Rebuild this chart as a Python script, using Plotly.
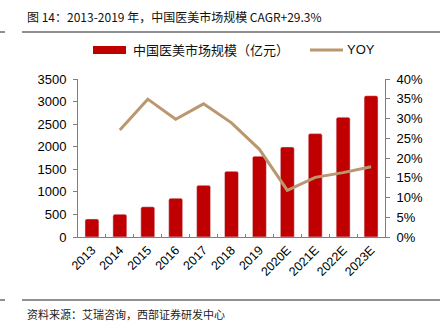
import plotly.graph_objects as go

years = ["2013", "2014", "2015", "2016", "2017", "2018", "2019",
         "2020E", "2021E", "2022E", "2023E"]
market_size = [400, 505, 670, 860, 1145, 1455, 1790, 1995, 2290, 2655, 3130]
yoy_years = years[1:]
yoy_pct = [27.1, 34.9, 29.8, 33.7, 28.9, 22.2, 11.8, 15.1, 16.3, 17.8]

left_ticks = [0, 500, 1000, 1500, 2000, 2500, 3000, 3500]
right_ticks = [0, 5, 10, 15, 20, 25, 30, 35, 40]

BAR = "#C00000"
LINE = "#BA976F"
AXIS = "#808080"
CJK = "Noto Sans CJK SC"
LAT = "Liberation Sans, Arial"

# Canvas and plot-area geometry (pixels)
W, H = 445, 334
pl, pr, pt, pb = 78, 60, 79, 97
pw, ph = W - pl - pr, H - pt - pb


def px(x):
    return (x - pl) / pw


def py(y):
    return (H - pb - y) / ph


fig = go.Figure()
fig.add_trace(go.Bar(
    x=years, y=market_size, name="中国医美市场规模（亿元）",
    marker=dict(color=BAR, cornerradius=2), width=0.5, showlegend=False,
))
fig.add_trace(go.Scatter(
    x=yoy_years, y=yoy_pct, name="YOY", yaxis="y2", mode="lines",
    line=dict(color=LINE, width=3), showlegend=False,
))

fig.update_layout(
    width=W, height=H,
    margin=dict(l=pl, r=pr, t=pt, b=pb),
    paper_bgcolor="white", plot_bgcolor="white",
    font=dict(family=LAT, size=12, color="#000000"),
    xaxis=dict(
        type="category", tickangle=-45, showline=True, linecolor=AXIS,
        linewidth=1, ticks="inside", tickson="boundaries", ticklen=3,
        tickcolor=AXIS, tickfont=dict(family=LAT, size=12.5),
        showgrid=False, range=[-0.5, 10.5],
    ),
    yaxis=dict(
        range=[0, 3500], tickvals=left_ticks, showline=True, linecolor=AXIS,
        ticks="outside", ticklen=4, tickcolor=AXIS, showgrid=False,
        zeroline=False, tickfont=dict(family=LAT, size=13), ticklabelstandoff=4,
    ),
    yaxis2=dict(
        range=[0, 40], tickvals=right_ticks,
        ticktext=[f"{v}%" for v in right_ticks],
        overlaying="y", side="right", showline=True, linecolor=AXIS,
        ticks="outside", ticklen=4, tickcolor=AXIS, showgrid=False,
        zeroline=False, tickfont=dict(family=LAT, size=13), ticklabelstandoff=4,
    ),
)

# Title, source note and legend labels
fig.add_annotation(
    x=px(25), y=py(17), xref="paper", yref="paper", xanchor="left",
    yanchor="middle", text="图 14：2013-2019 年，中国医美市场规模 CAGR+29.3%",
    showarrow=False, font=dict(family=CJK, size=12, color="#111"),
)
fig.add_annotation(
    x=px(25), y=py(314), xref="paper", yref="paper", xanchor="left",
    yanchor="middle", text="资料来源：艾瑞咨询，西部证券研发中心",
    showarrow=False, font=dict(family=CJK, size=11, color="#222"),
)
fig.add_annotation(
    x=px(131), y=py(50), xref="paper", yref="paper", xanchor="left",
    yanchor="middle", text="中国医美市场规模（亿元）",
    showarrow=False, font=dict(family=CJK, size=13, color="#111"),
)
fig.add_annotation(
    x=px(345), y=py(50), xref="paper", yref="paper", xanchor="left",
    yanchor="middle", text="YOY",
    showarrow=False, font=dict(family=LAT, size=13, color="#111"),
)

# Header/footer rules and legend swatches
fig.update_layout(shapes=[
    dict(type="line", xref="paper", yref="paper", x0=px(22), x1=px(440),
         y0=py(32), y1=py(32), line=dict(color="#222", width=1)),
    dict(type="line", xref="paper", yref="paper", x0=px(0), x1=px(5),
         y0=py(32), y1=py(32), line=dict(color="#222", width=1)),
    dict(type="line", xref="paper", yref="paper", x0=px(22), x1=px(440),
         y0=py(300), y1=py(300), line=dict(color="#222", width=1)),
    dict(type="line", xref="paper", yref="paper", x0=px(0), x1=px(5),
         y0=py(300), y1=py(300), line=dict(color="#222", width=1)),
    dict(type="rect", xref="paper", yref="paper", x0=px(93), x1=px(126),
         y0=py(46), y1=py(54), fillcolor=BAR, line=dict(width=0)),
    dict(type="line", xref="paper", yref="paper", x0=px(310), x1=px(343),
         y0=py(50), y1=py(50), line=dict(color=LINE, width=3)),
])

fig.write_html("out.html")
